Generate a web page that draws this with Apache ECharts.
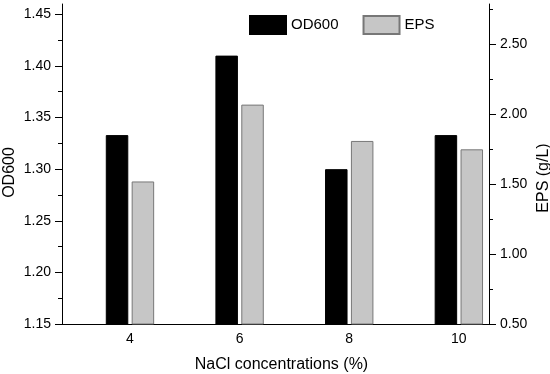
<!DOCTYPE html>
<html>
<head>
<meta charset="utf-8">
<script src="https://cdn.jsdelivr.net/npm/echarts@6/dist/echarts.min.js"></script>
<style>
html,body{margin:0;padding:0;background:#fff;}
#c{width:550px;height:374px;}
</style>
</head>
<body>
<div id="c"></div>
<script>
var categories = [4, 6, 8, 10];
var od600 = [1.333, 1.410, 1.300, 1.333];
var eps = [1.52, 2.07, 1.81, 1.75];
var leftTicks = [1.15, 1.20, 1.25, 1.30, 1.35, 1.40, 1.45];
var rightTicks = [0.50, 1.00, 1.50, 2.00, 2.50];

var font = '"Liberation Sans", Arial, sans-serif';
var chart = echarts.init(document.getElementById('c'), null, {renderer: 'canvas'});

function pairs(xs, ys) { return xs.map(function (x, i) { return [x, ys[i]]; }); }

var axisLineStyle = {show: true, lineStyle: {color: '#000', width: 1}};

chart.setOption({
  animation: false,
  backgroundColor: '#fff',
  textStyle: {fontFamily: font, color: '#000'},
  grid: {left: 62, right: 61, top: 4, bottom: 50, containLabel: false, outerBoundsMode: 'none'},
  legend: {
    left: 249, top: 15, padding: 0,
    itemWidth: 36, itemHeight: 18, itemGap: 24,
    icon: 'rect',
    textStyle: {fontFamily: font, fontSize: 15, color: '#000'},
    data: ['OD600', 'EPS']
  },
  xAxis: {
    type: 'value',
    min: 2.76, max: 10.55,
    name: 'NaCl concentrations (%)',
    nameLocation: 'middle',
    nameGap: 33,
    nameMoveOverlap: false,
    nameTextStyle: {fontFamily: font, fontSize: 16, color: '#000', padding: [0, 0, 0, 12]},
    axisLine: axisLineStyle,
    axisTick: {show: false},
    splitLine: {show: false},
    axisLabel: {customValues: categories, fontFamily: font, fontSize: 14, color: '#000', margin: 8}
  },
  yAxis: [{
    type: 'value',
    position: 'left',
    min: 1.15, max: 1.46, interval: 0.05,
    name: 'OD600',
    nameLocation: 'middle',
    nameRotate: 90,
    nameGap: 44,
    nameMoveOverlap: false,
    nameTextStyle: {fontFamily: font, fontSize: 16, color: '#000', padding: [0, 17, 0, 0]},
    axisLine: axisLineStyle,
    axisTick: {show: true, length: 7, customValues: leftTicks, lineStyle: {color: '#000'}},
    minorTick: {show: true, splitNumber: 2, length: 4, lineStyle: {color: '#000'}},
    splitLine: {show: false},
    axisLabel: {customValues: leftTicks, fontFamily: font, fontSize: 14, color: '#000', margin: 11,
      formatter: function (v) { return v.toFixed(2); }}
  }, {
    type: 'value',
    position: 'right',
    min: 0.5, max: 2.79, interval: 0.5,
    name: 'EPS (g/L)',
    nameLocation: 'middle',
    nameRotate: 90,
    nameGap: 47,
    nameMoveOverlap: false,
    nameTextStyle: {fontFamily: font, fontSize: 16, color: '#000', padding: [0, 28, 0, 0]},
    axisLine: axisLineStyle,
    axisTick: {show: true, length: 7, customValues: rightTicks, lineStyle: {color: '#000'}},
    minorTick: {show: true, splitNumber: 2, length: 4, lineStyle: {color: '#000'}},
    splitLine: {show: false},
    axisLabel: {customValues: rightTicks, fontFamily: font, fontSize: 14, color: '#000', margin: 11,
      formatter: function (v) { return v.toFixed(2); }}
  }],
  series: [{
    name: 'OD600',
    type: 'bar',
    xAxisIndex: 0, yAxisIndex: 0,
    barWidth: 22.5, barGap: '15%',
    itemStyle: {color: '#000', borderColor: '#000', borderWidth: 1},
    data: pairs(categories, od600)
  }, {
    name: 'EPS',
    type: 'bar',
    xAxisIndex: 0, yAxisIndex: 1,
    barWidth: 22.5, barGap: '15%',
    itemStyle: {color: '#c6c6c6', borderColor: '#777', borderWidth: 1},
    data: pairs(categories, eps)
  }]
});
</script>
</body>
</html>
